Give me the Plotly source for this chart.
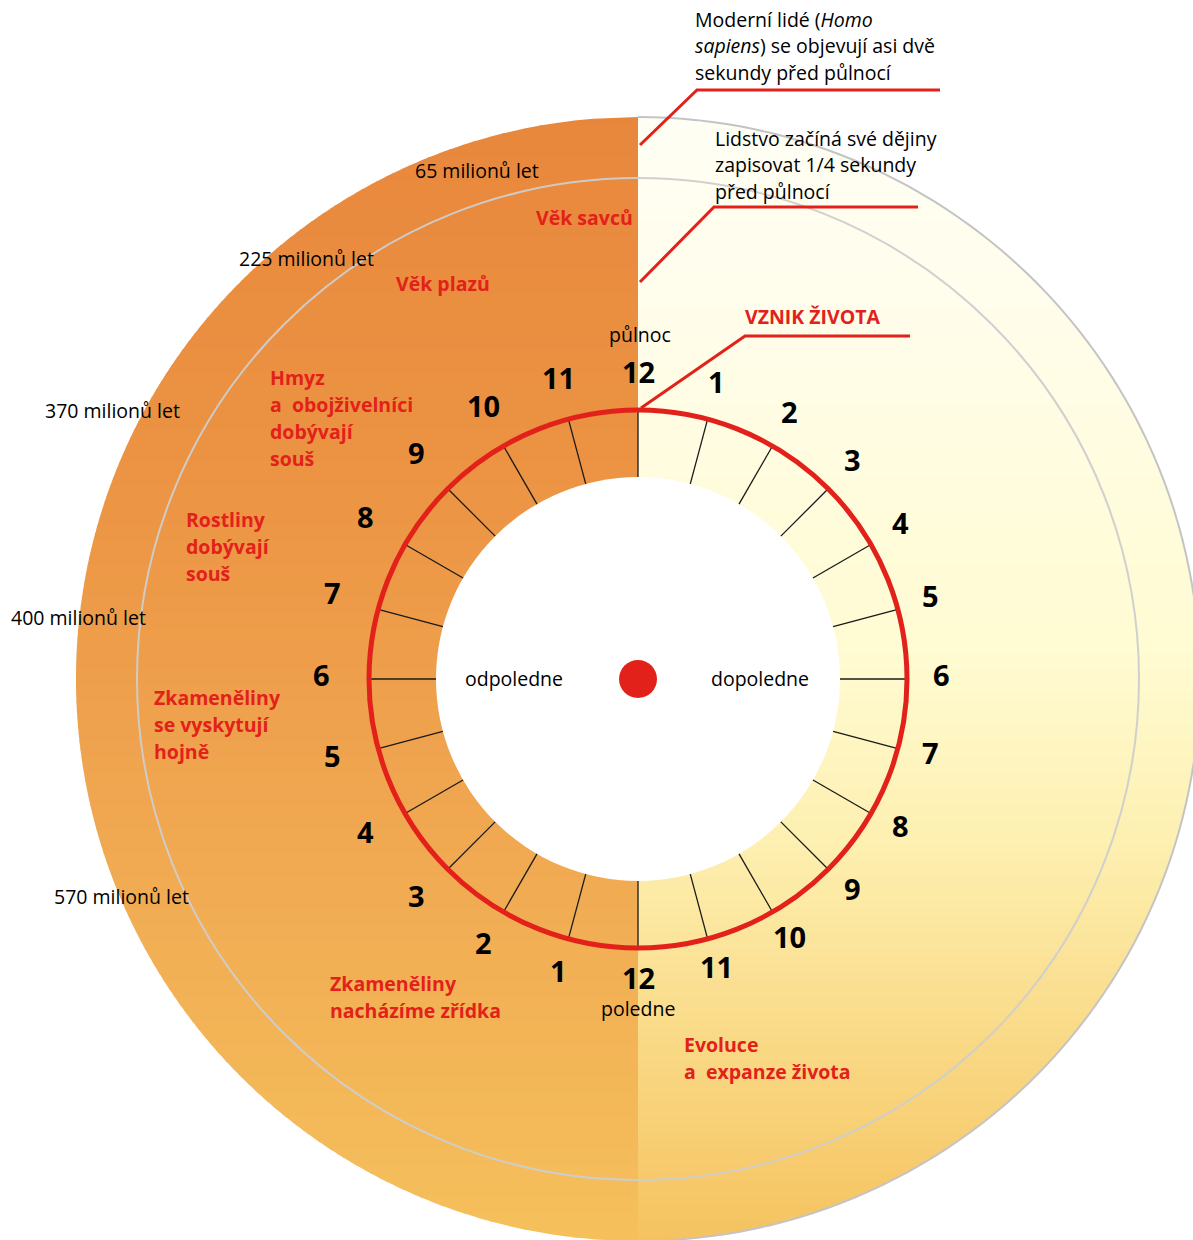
import numpy as np
import plotly.graph_objects as go

# ---------------- data (texts / values) ----------------
am_hours = ["1", "2", "3", "4", "5", "6", "7", "8", "9", "10", "11", "12"]
pm_hours = ["1", "2", "3", "4", "5", "6", "7", "8", "9", "10", "11", "12"]
age_labels = ["65 milionů let", "225 milionů let", "370 milionů let",
              "400 milionů let", "570 milionů let"]
era_labels = [
    ["Věk savců"],
    ["Věk plazů"],
    ["Hmyz", "a  obojživelníci", "dobývají", "souš"],
    ["Rostliny", "dobývají", "souš"],
    ["Zkameněliny", "se vyskytují", "hojně"],
    ["Zkameněliny", "nacházíme zřídka"],
    ["Evoluce", "a  expanze života"],
]
callout_texts = [
    ["Moderní lidé (<i>Homo</i>", "<i>sapiens</i>) se objevují asi dvě", "sekundy před půlnocí"],
    ["Lidstvo začíná své dějiny", "zapisovat 1/4 sekundy", "před půlnocí"],
]
life_label = "VZNIK ŽIVOTA"
midnight_label = "půlnoc"
noon_label = "poledne"
pm_label = "odpoledne"
am_label = "dopoledne"

# ---------------- layout constants ----------------
W, H = 1193, 1240
CX, CY = 638, 679
R_OUT, R_GREY, R_RING, R_INNER, R_DOT = 562, 501, 269, 202, 19
NUM_CX, NUM_CY, R_NUM, R_NUM_LEFT_EXTRA = 638, 674, 303, 14
RED = "#E3211B"
FONT = "Open Sans"
TXT = 19.5
RED_TXT = 19.5
NUM_TXT = 29

age_pos = [(477, 170), (306, 258), (112, 410), (78, 617), (121, 896)]
era_pos = [(534, 217), (394, 283), (268, 377), (184, 519), (152, 697), (328, 983), (682, 1044)]
callout_pos = [(693, 19), (713, 138)]
LINE_H = 26.5

left_stops = [(115, (232, 135, 60)), (500, (236, 149, 68)), (800, (240, 166, 80)), (1241, (245, 192, 92))]
right_stops = [(115, (255, 254, 244)), (320, (255, 253, 234)), (650, (255, 251, 210)),
               (850, (253, 239, 175)), (1050, (249, 216, 132)), (1241, (245, 194, 95))]


def interp_color(stops, y):
    ys = [s[0] for s in stops]
    cols = np.array([s[1] for s in stops], dtype=float)
    c = [np.interp(y, ys, cols[:, k]) for k in range(3)]
    return "rgb(%d,%d,%d)" % tuple(int(round(v)) for v in c)


def strip_path(side, y0, y1, R):
    y0 = max(y0, CY - R)
    y1 = min(y1, CY + R)
    if y1 <= y0:
        return None
    ys = np.linspace(y0, y1, 6)
    xs = CX + side * np.sqrt(np.maximum(R ** 2 - (ys - CY) ** 2, 0))
    pts = [(CX, ys[0])] + list(zip(xs, ys)) + [(CX, ys[-1])]
    return "M " + " L ".join("%.2f,%.2f" % p for p in pts) + " Z"


shapes = []
step = 8
for side, stops in ((-1, left_stops), (1, right_stops)):
    y = CY - R_OUT
    while y < CY + R_OUT:
        p = strip_path(side, y, y + step + 1, R_OUT)
        if p:
            shapes.append(dict(type="path", path=p, fillcolor=interp_color(stops, y + step / 2),
                               line=dict(width=0), layer="below"))
        y += step

# outer grey outline on right half
th = np.linspace(0, np.pi, 120)
arc = [(CX + R_OUT * np.sin(t), CY - R_OUT * np.cos(t)) for t in th]
shapes.append(dict(type="path", path="M " + " L ".join("%.2f,%.2f" % p for p in arc),
                   line=dict(color="#C4C4C4", width=2), layer="below"))
# grey ring
shapes.append(dict(type="circle", x0=CX - R_GREY, x1=CX + R_GREY, y0=CY - R_GREY, y1=CY + R_GREY,
                   line=dict(color="rgba(205,205,205,0.95)", width=2), layer="below"))
# inner white disc
shapes.append(dict(type="circle", x0=CX - R_INNER, x1=CX + R_INNER, y0=CY - R_INNER, y1=CY + R_INNER,
                   fillcolor="white", line=dict(width=0), layer="below"))
# ticks (24 hours)
for k in range(24):
    t = np.radians(15 * k)
    shapes.append(dict(type="line",
                       x0=CX + R_INNER * np.sin(t), y0=CY - R_INNER * np.cos(t),
                       x1=CX + R_RING * np.sin(t), y1=CY - R_RING * np.cos(t),
                       line=dict(color="#1a1a1a", width=1.3), layer="below"))
# red clock ring
shapes.append(dict(type="circle", x0=CX - R_RING, x1=CX + R_RING, y0=CY - R_RING, y1=CY + R_RING,
                   line=dict(color=RED, width=5), layer="below"))
# red centre dot
shapes.append(dict(type="circle", x0=CX - R_DOT, x1=CX + R_DOT, y0=CY - R_DOT, y1=CY + R_DOT,
                   fillcolor=RED, line=dict(width=0), layer="below"))
# callout leader lines
leaders = [[(640, 145), (697, 90), (940, 90)],
           [(640, 282), (714, 207), (918, 207)],
           [(641, 408), (745, 336), (910, 336)]]
for pts in leaders:
    shapes.append(dict(type="path", path="M " + " L ".join("%d,%d" % p for p in pts),
                       line=dict(color=RED, width=3), layer="below"))

ann = []


def text(x, y, s, size=TXT, color="black", bold=False, xanchor="center"):
    ann.append(dict(x=x, y=y, xref="x", yref="y", text=("<b>%s</b>" % s) if bold else s,
                    showarrow=False, xanchor=xanchor, yanchor="middle",
                    font=dict(family=FONT, size=size, color=color)))


def num_xy(deg):
    t = np.radians(deg)
    r = R_NUM + R_NUM_LEFT_EXTRA * max(0.0, -np.sin(t))
    return NUM_CX + r * np.sin(t), NUM_CY - r * np.cos(t)


# hour numbers
for i, h in enumerate(am_hours):
    x, y = num_xy(15 * (i + 1))
    text(x, y, h, size=NUM_TXT, bold=True)
for i, h in enumerate(pm_hours):
    x, y = num_xy(180 + 15 * (i + 1))
    text(x, y, h, size=NUM_TXT, bold=True)

text(640, 334, midnight_label)
text(638, 1008, noon_label)
text(514, 678, pm_label)
text(760, 678, am_label)

for s, (x, y) in zip(age_labels, age_pos):
    text(x, y, s)

for lines, (x, y) in zip(era_labels, era_pos):
    for j, s in enumerate(lines):
        text(x, y + j * 27, s, size=RED_TXT, color=RED, bold=True, xanchor="left")

for lines, (x, y) in zip(callout_texts, callout_pos):
    for j, s in enumerate(lines):
        text(x, y + j * LINE_H, s, xanchor="left")

text(743, 316, life_label, size=RED_TXT, color=RED, bold=True, xanchor="left")

fig = go.Figure()
fig.add_trace(go.Scatter(x=[0, W], y=[0, H], mode="markers", marker=dict(opacity=0), hoverinfo="skip"))
fig.update_layout(
    width=W, height=H, margin=dict(l=0, r=0, t=0, b=0),
    paper_bgcolor="white", plot_bgcolor="white", showlegend=False,
    xaxis=dict(range=[0, W], visible=False, fixedrange=True),
    yaxis=dict(range=[H, 0], visible=False, fixedrange=True),
    shapes=shapes, annotations=ann,
)
fig.write_html("out.html", include_plotlyjs=True, config={"displayModeBar": False},
               post_script="document.body.style.margin='0';")
